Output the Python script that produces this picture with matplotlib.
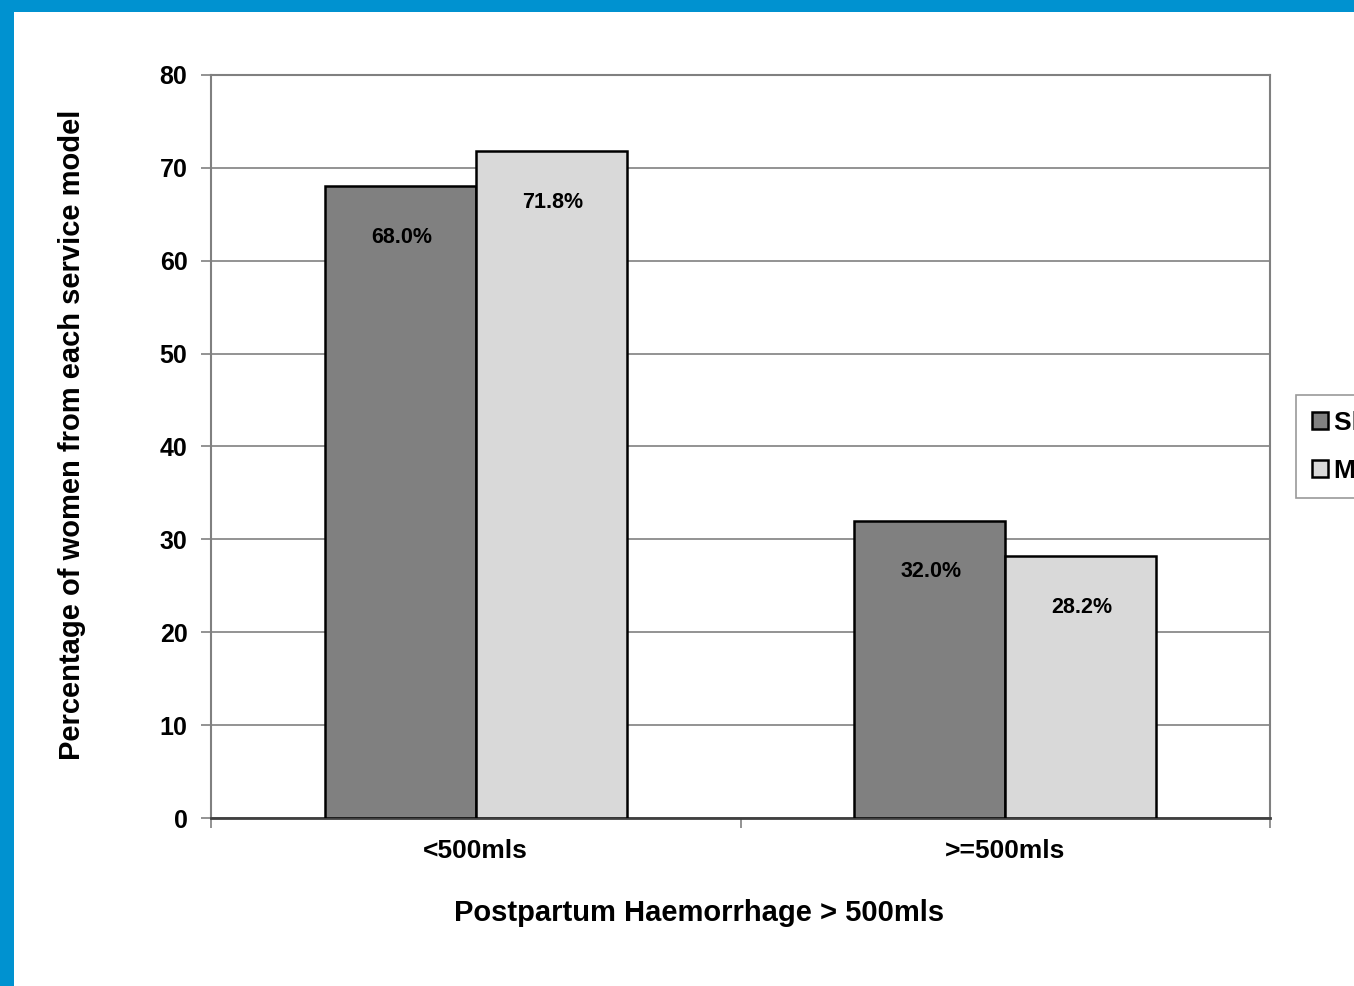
import matplotlib
matplotlib.use("Agg")
import matplotlib.pyplot as plt
from matplotlib.patches import Rectangle
import numpy as np

plt.rcParams['font.family'] = ['Liberation Sans', 'DejaVu Sans']

categories = ["<500mls", ">=500mls"]
series_names = ["Shared care", "Midwifery group practice"]
series_values = [
    [68.0, 32.0],
    [71.8, 28.2],
]
series_colors = ["#808080", "#D9D9D9"]
yticks = [0, 10, 20, 30, 40, 50, 60, 70, 80]

W, H = 1354, 986
fig = plt.figure(figsize=(W / 100, H / 100), dpi=100)
fig.patch.set_facecolor("white")

# blue page frame along the top and left edges
fig.patches.append(Rectangle((0, 1 - 12 / H), 1, 12 / H, transform=fig.transFigure,
                             facecolor="#0092D0", edgecolor="none", zorder=0))
fig.patches.append(Rectangle((0, 0), 14 / W, 1, transform=fig.transFigure,
                             facecolor="#0092D0", edgecolor="none", zorder=0))

ax = fig.add_axes([211 / W, (H - 818) / H, (1270 - 211) / W, (818 - 75) / H])

x = np.arange(len(categories))
width = 0.285
bars_all = []
for i, (name, vals, col) in enumerate(zip(series_names, series_values, series_colors)):
    offs = (i - 0.5) * width
    bars = ax.bar(x + offs, vals, width, color=col, edgecolor="black", linewidth=1.8,
                  label=name, zorder=3)
    bars_all.append(bars)
    for xi, v in zip(x + offs, vals):
        ax.text(xi + 0.003, v - 5.5, f"{v:.1f}%", ha="center", va="center",
                fontsize=15.5, fontweight="bold", zorder=4)

ax.set_xlim(-0.5, len(categories) - 0.5)
ax.set_ylim(0, 80)
ax.set_yticks(yticks)
ax.set_yticklabels([str(t) for t in yticks], fontsize=18, fontweight="bold")
ax.yaxis.grid(True, color="#808080", linewidth=1.2, zorder=0)
ax.set_axisbelow(True)

# category boundaries carry the tick marks, labels sit at the group centres
ax.set_xticks(np.arange(-0.5, len(categories)), minor=False)
ax.set_xticklabels([])
ax.set_xticks(x, minor=True)
ax.set_xticklabels(categories, minor=True, fontsize=19, fontweight="bold")
ax.tick_params(axis="x", which="minor", length=0, pad=15)
ax.tick_params(axis="x", which="major", length=7, width=1.2, color="#808080", direction="out")
ax.tick_params(axis="y", length=7, width=1.2, color="#808080", direction="out", pad=10)

for s in ax.spines.values():
    s.set_color("#808080")
    s.set_linewidth(1.5)
ax.spines["bottom"].set_color("#404040")
ax.spines["bottom"].set_linewidth(2)

fig.text(699 / W, 1 - 913 / H, "Postpartum Haemorrhage > 500mls", fontsize=21,
         fontweight="bold", ha="center", va="center")
fig.text(72 / W, 1 - 435 / H, "Percentage of women from each service model", fontsize=21,
         fontweight="bold", ha="center", va="center", rotation=90)

leg = fig.legend(handles=[b[0] for b in bars_all], labels=series_names,
                 loc="upper left", bbox_to_anchor=(1296 / W, 1 - 395 / H),
                 prop={"weight": "bold", "size": 19}, frameon=True,
                 fancybox=False, edgecolor="#808080", handlelength=0.6, handleheight=0.6,
                 handletextpad=0.25, borderpad=0.6, labelspacing=0.9, borderaxespad=0)
leg.get_frame().set_linewidth(1.2)

fig.savefig("out.png", dpi=100, facecolor="white")
